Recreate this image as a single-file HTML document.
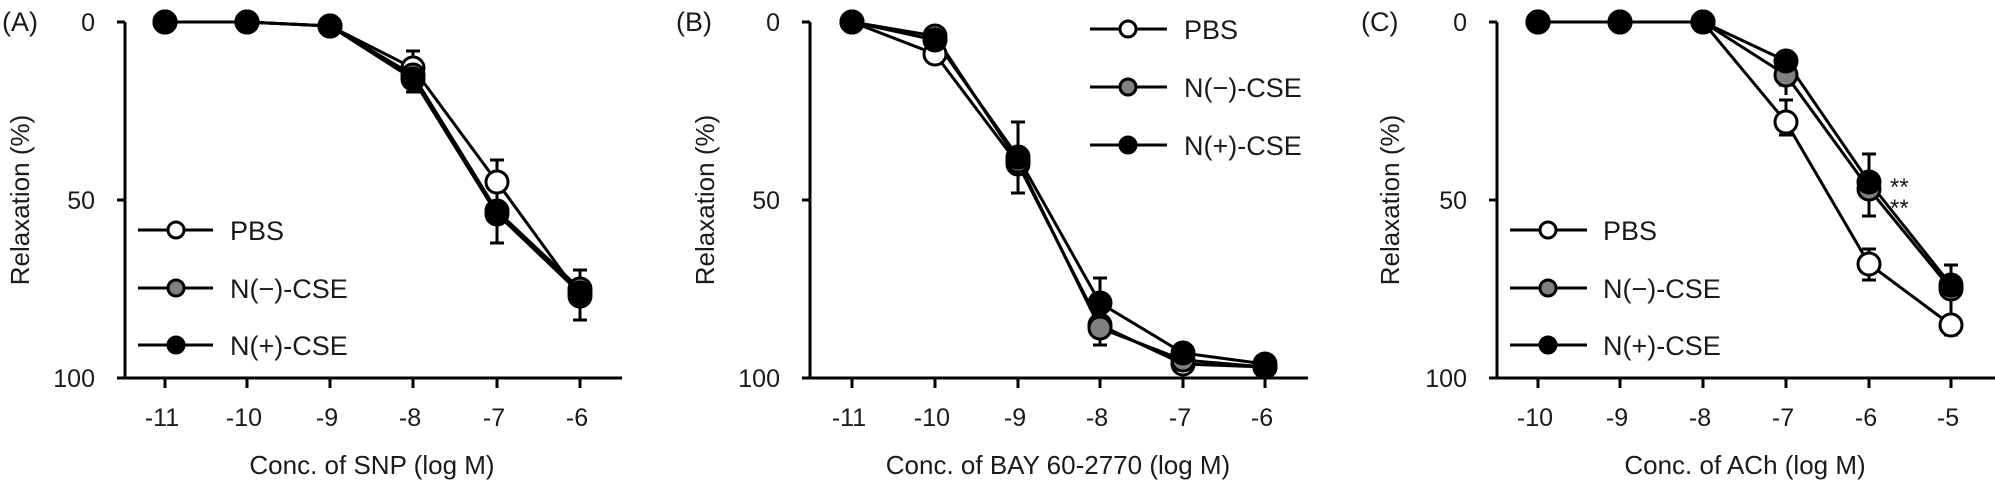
<!DOCTYPE html>
<html><head><meta charset="utf-8"><style>
html,body{margin:0;padding:0;background:#fff;}
svg{display:block;}
text{font-family:"Liberation Sans",Arial,sans-serif;fill:#1a1a1a;}
.t{font-size:25px;text-anchor:middle;}
.y{font-size:25px;text-anchor:end;}
.l{font-size:27px;}
.ax{font-size:26px;text-anchor:middle;}
</style></head><body>
<svg width="1995" height="482" viewBox="0 0 1995 482" xmlns="http://www.w3.org/2000/svg">
<g stroke="#000" stroke-width="3" fill="none">
<!-- Panel A axes -->
<path d="M125 22V378H622 M117 22H125 M117 200H125 M117 378H125 M165 378v10 M247 378v10 M330 378v10 M413 378v10 M497 378v10 M580 378v10"/>
<!-- Panel B axes -->
<path d="M810 22V378H1308 M802 22H810 M802 200H810 M802 378H810 M852 378v10 M935 378v10 M1018 378v10 M1100 378v10 M1183 378v10 M1265 378v10"/>
<!-- Panel C axes -->
<path d="M1497 22V378H1995 M1489 22H1497 M1489 200H1497 M1489 378H1497 M1538 378v10 M1620 378v10 M1703 378v10 M1786 378v10 M1869 378v10 M1951 378v10"/>
</g>
<!-- error bars -->
<g stroke="#000" stroke-width="3">
<path d="M413 51V92 M406 51h14 M406 92h14 M497 160V243 M490 160h14 M490 243h14 M580 270V320 M573 270h14 M573 320h14"/>
<path d="M1018 122V193 M1011 122h14 M1011 193h14 M1100 278V345 M1093 278h14 M1093 345h14"/>
<path d="M1786 100V135 M1779 100h14 M1779 135h14 M1786 85v10 M1779 85h14 M1869 154V216 M1862 154h14 M1862 216h14 M1869 249V280 M1862 249h14 M1862 280h14 M1951 265V335 M1944 265h14 M1944 335h14"/>
</g>
<!-- lines -->
<g stroke="#000" stroke-width="3" fill="none">
<polyline points="165,22 247,22 330,26 413,68 497,182 580,296"/>
<polyline points="165,22 247,22 330,26 413,75 497,211 580,289"/>
<polyline points="165,22 247,22 330,26 413,79 497,214 580,293"/>
<polyline points="852,22 935,54 1018,164 1100,325 1183,364 1265,367"/>
<polyline points="852,22 935,36 1018,161 1100,328 1183,360 1265,367"/>
<polyline points="852,22 935,40 1018,157 1100,303 1183,353 1265,364"/>
<polyline points="1538,22 1620,22 1703,22 1786,122 1869,264 1951,325"/>
<polyline points="1538,22 1620,22 1703,22 1786,75 1869,189 1951,289"/>
<polyline points="1538,22 1620,22 1703,22 1786,61 1869,182 1951,285"/>
</g>
<!-- markers -->
<g stroke="#000" stroke-width="3">
<g fill="#fff">
<circle cx="165" cy="22" r="11"/><circle cx="247" cy="22" r="11"/><circle cx="330" cy="26" r="11"/><circle cx="413" cy="68" r="11"/><circle cx="497" cy="182" r="11"/><circle cx="580" cy="296" r="11"/>
<circle cx="852" cy="22" r="11"/><circle cx="935" cy="54" r="11"/><circle cx="1018" cy="164" r="11"/><circle cx="1100" cy="325" r="11"/><circle cx="1183" cy="364" r="11"/><circle cx="1265" cy="367" r="11"/>
<circle cx="1538" cy="22" r="11"/><circle cx="1620" cy="22" r="11"/><circle cx="1703" cy="22" r="11"/><circle cx="1786" cy="122" r="11"/><circle cx="1869" cy="264" r="11"/><circle cx="1951" cy="325" r="11"/>
</g>
<g fill="#808080">
<circle cx="165" cy="22" r="11"/><circle cx="247" cy="22" r="11"/><circle cx="330" cy="26" r="11"/><circle cx="413" cy="75" r="11"/><circle cx="497" cy="211" r="11"/><circle cx="580" cy="289" r="11"/>
<circle cx="852" cy="22" r="11"/><circle cx="935" cy="36" r="11"/><circle cx="1018" cy="161" r="11"/><circle cx="1100" cy="328" r="11"/><circle cx="1183" cy="360" r="11"/><circle cx="1265" cy="367" r="11"/>
<circle cx="1538" cy="22" r="11"/><circle cx="1620" cy="22" r="11"/><circle cx="1703" cy="22" r="11"/><circle cx="1786" cy="75" r="11"/><circle cx="1869" cy="189" r="11"/><circle cx="1951" cy="289" r="11"/>
</g>
<g fill="#000">
<circle cx="165" cy="22" r="11"/><circle cx="247" cy="22" r="11"/><circle cx="330" cy="26" r="11"/><circle cx="413" cy="79" r="11"/><circle cx="497" cy="214" r="11"/><circle cx="580" cy="293" r="11"/>
<circle cx="852" cy="22" r="11"/><circle cx="935" cy="40" r="11"/><circle cx="1018" cy="157" r="11"/><circle cx="1100" cy="303" r="11"/><circle cx="1183" cy="353" r="11"/><circle cx="1265" cy="364" r="11"/>
<circle cx="1538" cy="22" r="11"/><circle cx="1620" cy="22" r="11"/><circle cx="1703" cy="22" r="11"/><circle cx="1786" cy="61" r="11"/><circle cx="1869" cy="182" r="11"/><circle cx="1951" cy="285" r="11"/>
</g>
</g>
<!-- legends -->
<g stroke="#000" stroke-width="3">
<path d="M138 230H213 M138 288H213 M138 345H213"/>
<circle cx="176" cy="230" r="8" fill="#fff"/><circle cx="176" cy="288" r="8" fill="#808080"/><circle cx="176" cy="345" r="8" fill="#000"/>
<path d="M1090 29H1167 M1090 87H1167 M1090 145H1167"/>
<circle cx="1128" cy="29" r="8" fill="#fff"/><circle cx="1128" cy="87" r="8" fill="#808080"/><circle cx="1128" cy="145" r="8" fill="#000"/>
<path d="M1510 230H1587 M1510 288H1587 M1510 345H1587"/>
<circle cx="1548" cy="230" r="8" fill="#fff"/><circle cx="1548" cy="288" r="8" fill="#808080"/><circle cx="1548" cy="345" r="8" fill="#000"/>
</g>
<g class="l">
<text x="230" y="240">PBS</text><text x="230" y="298">N(−)-CSE</text><text x="230" y="355">N(+)-CSE</text>
<text x="1184" y="39">PBS</text><text x="1184" y="97">N(−)-CSE</text><text x="1184" y="155">N(+)-CSE</text>
<text x="1603" y="240">PBS</text><text x="1603" y="298">N(−)-CSE</text><text x="1603" y="355">N(+)-CSE</text>
</g>
<!-- panel labels -->
<text x="2" y="31" style="font-size:27px">(A)</text>
<text x="676" y="31" style="font-size:27px">(B)</text>
<text x="1361" y="31" style="font-size:27px">(C)</text>
<!-- y ticks -->
<g class="y">
<text x="95" y="31">0</text><text x="95" y="209">50</text><text x="95" y="387">100</text>
<text x="780" y="31">0</text><text x="780" y="209">50</text><text x="780" y="387">100</text>
<text x="1467" y="31">0</text><text x="1467" y="209">50</text><text x="1467" y="387">100</text>
</g>
<!-- y axis titles -->
<text class="ax" transform="translate(29,200) rotate(-90)">Relaxation (%)</text>
<text class="ax" transform="translate(714,200) rotate(-90)">Relaxation (%)</text>
<text class="ax" transform="translate(1399,200) rotate(-90)">Relaxation (%)</text>
<!-- x ticks -->
<g class="t">
<text x="162" y="426">-11</text><text x="244" y="426">-10</text><text x="327" y="426">-9</text><text x="410" y="426">-8</text><text x="494" y="426">-7</text><text x="577" y="426">-6</text>
<text x="849" y="426">-11</text><text x="932" y="426">-10</text><text x="1015" y="426">-9</text><text x="1097" y="426">-8</text><text x="1180" y="426">-7</text><text x="1262" y="426">-6</text>
<text x="1535" y="426">-10</text><text x="1617" y="426">-9</text><text x="1700" y="426">-8</text><text x="1783" y="426">-7</text><text x="1866" y="426">-6</text><text x="1948" y="426">-5</text>
</g>
<g class="ax">
<text x="372" y="474">Conc. of SNP (log M)</text>
<text x="1058" y="474">Conc. of BAY 60-2770 (log M)</text>
<text x="1745" y="474">Conc. of ACh (log M)</text>
</g>
<text x="1890" y="195" style="font-size:24px">**</text>
<text x="1890" y="216" style="font-size:24px">**</text>
</svg>
</body></html>
